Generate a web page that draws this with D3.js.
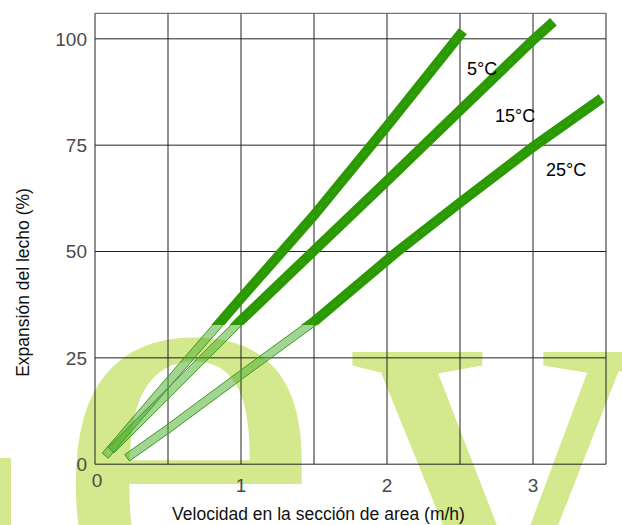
<!DOCTYPE html>
<html>
<head>
<meta charset="utf-8">
<script src="https://cdn.jsdelivr.net/npm/d3@7"></script>
<style>
  html, body { margin: 0; padding: 0; background: #ffffff; }
  svg { display: block; }
</style>
</head>
<body>
<svg id="chart" width="622" height="525"></svg>
<script>
// ---- data ----
const xTicks = [0, 1, 2, 3];
const xTickLabels = ["0", "1", "2", "3"];
const yTicks = [0, 25, 50, 75, 100];
const yTickLabels = ["0", "25", "50", "75", "100"];
const xGrid = [0, 0.5, 1, 1.5, 2, 2.5, 3, 3.5];

const seriesNames = ["5°C", "15°C", "25°C"];
const x5 = [0.07, 0.5, 1.0, 1.5, 2.0, 2.52];
const y5 = [2.0, 19.2, 39.0, 58.5, 79.5, 101.8];
const x15 = [0.11, 0.5, 1.0, 1.5, 2.0, 2.5, 3.0, 3.14];
const y15 = [3.3, 16.6, 33.8, 50.2, 66.6, 83.2, 99.7, 104.0];
const x25 = [0.22, 0.5, 1.0, 1.5, 2.07, 2.5, 3.0, 3.47];
const y25 = [1.5, 8.3, 21.0, 33.5, 50.0, 61.5, 74.6, 86.0];

const xTitle = "Velocidad en la sección de area (m/h)";
const yTitle = "Expansión del lecho (%)";
const watermark = ["e", "y"];

// ---- layout ----
const svg = d3.select("#chart");
const x = d3.scaleLinear().domain([0, 3.5]).range([95, 606]);
const y = d3.scaleLinear().domain([0, 106]).range([464.2, 13.3]);

svg.append("rect").attr("width", 622).attr("height", 525).attr("fill", "#ffffff");

// watermark
const wm = svg.append("g").attr("fill", "#d4e88e")
  .style("font-family", "'Liberation Serif', 'Times New Roman', serif")
  .style("font-size", "610px");
wm.append("rect").attr("x", 0).attr("y", 458).attr("width", 11).attr("height", 67);
wm.append("text").attr("x", 52).attr("y", 625).text(watermark[0]);
wm.append("text").attr("x", 345).attr("y", 632).text(watermark[1]);

// grid
const grid = svg.append("g").attr("stroke", "#222").attr("stroke-width", 1).attr("fill", "none");
xGrid.forEach(v => {
  grid.append("line").attr("x1", x(v)).attr("x2", x(v)).attr("y1", y.range()[1]).attr("y2", y.range()[0]);
});
yTicks.concat([106]).forEach(v => {
  grid.append("line").attr("x1", x.range()[0]).attr("x2", x.range()[1]).attr("y1", y(v)).attr("y2", y(v))
    .attr("stroke", v === 106 ? "#555" : "#222");
});

// tick labels
const tickFont = "'Liberation Sans Narrow', 'Liberation Sans', Arial, sans-serif";
svg.append("g").selectAll("text").data(yTicks).join("text")
  .attr("x", 87).attr("y", d => y(d)).attr("dy", "0.36em")
  .attr("text-anchor", "end")
  .style("font-family", tickFont).style("font-size", "19px").attr("fill", "#4a4a4a")
  .text((d, i) => yTickLabels[i]);
svg.append("g").selectAll("text").data(xTicks).join("text")
  .attr("x", d => x(d) + (d === 0 ? 2 : 0)).attr("y", d => d === 0 ? 487 : 492)
  .attr("text-anchor", "middle")
  .style("font-family", tickFont).style("font-size", "19px").attr("fill", "#4a4a4a")
  .text((d, i) => xTickLabels[i]);

// bands
const defs = svg.append("defs");
defs.append("clipPath").attr("id", "clipTop").append("rect")
  .attr("x", 0).attr("y", 0).attr("width", 622).attr("height", 325);
defs.append("clipPath").attr("id", "clipBottom").append("rect")
  .attr("x", 0).attr("y", 325).attr("width", 622).attr("height", 200);

function bandPolygon(xs, ys, w) {
  const pts = xs.map((v, i) => [x(v), y(ys[i])]);
  const n = pts.length;
  const left = [], right = [];
  for (let i = 0; i < n; i++) {
    const a = pts[Math.max(0, i - 1)], b = pts[Math.min(n - 1, i + 1)];
    let dx = b[0] - a[0], dy = b[1] - a[1];
    const len = Math.hypot(dx, dy);
    dx /= len; dy /= len;
    const nx = -dy * w / 2, ny = dx * w / 2;
    left.push([pts[i][0] + nx, pts[i][1] + ny]);
    right.push([pts[i][0] - nx, pts[i][1] - ny]);
  }
  return left.concat(right.reverse());
}
const poly = d3.line().curve(d3.curveLinearClosed);

const series = [[x5, y5], [x15, y15], [x25, y25]];
const bandG = svg.append("g");
series.forEach(([xs, ys]) => {
  bandG.append("path").attr("d", poly(bandPolygon(xs, ys, 8)))
    .attr("clip-path", "url(#clipBottom)")
    .attr("fill", "#45aa2a").attr("fill-opacity", 0.5)
    .attr("stroke", "#3a9c1c").attr("stroke-width", 1);
});
series.forEach(([xs, ys]) => {
  bandG.append("path").attr("d", poly(bandPolygon(xs, ys, 10)))
    .attr("clip-path", "url(#clipTop)")
    .attr("fill", "#2b9a02");
  bandG.append("path").attr("d", d3.line()(xs.map((v, i) => [x(v), y(ys[i])])))
    .attr("clip-path", "url(#clipTop)")
    .attr("fill", "none").attr("stroke", "#62b840").attr("stroke-width", 0.7)
    .attr("stroke-opacity", 0.6).attr("stroke-dasharray", "7,5");
});

// series labels
const labelPos = [[467, 75], [495, 122], [546, 176]];
svg.append("g").selectAll("text").data(seriesNames).join("text")
  .attr("x", (d, i) => labelPos[i][0]).attr("y", (d, i) => labelPos[i][1])
  .style("font-family", "'Liberation Sans', Arial, sans-serif").style("font-size", "18px")
  .attr("fill", "#000").text(d => d);

// axis titles
svg.append("text").attr("x", 318.5).attr("y", 520).attr("text-anchor", "middle")
  .style("font-family", "'Liberation Sans', Arial, sans-serif").style("font-size", "17.5px")
  .attr("fill", "#111").text(xTitle);
svg.append("text").attr("transform", "translate(29,282.5) rotate(-90)").attr("text-anchor", "middle")
  .style("font-family", "'Liberation Sans', Arial, sans-serif").style("font-size", "17.5px")
  .attr("fill", "#111").text(yTitle);
</script>
</body>
</html>
